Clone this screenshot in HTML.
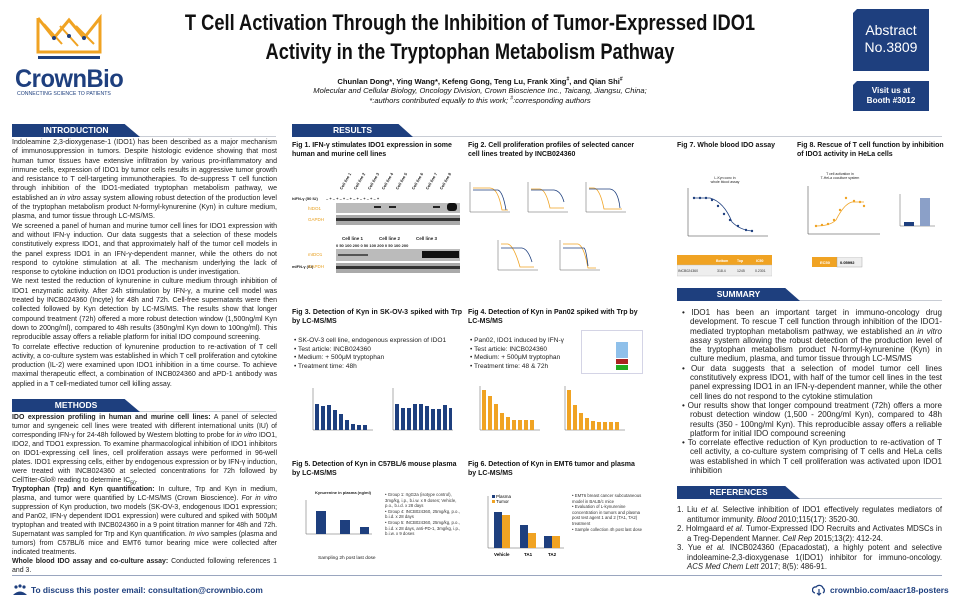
<!DOCTYPE html>
<html><head><meta charset="utf-8"><style>
*{margin:0;padding:0;box-sizing:border-box}
body{width:954px;height:605px;background:#fff;position:relative;overflow:hidden;font-family:"Liberation Sans",sans-serif;color:#222}
.a{position:absolute}
.bar{position:absolute;height:13px;background:#1e3f7e;color:#fff;font-weight:bold;font-size:8.5px;line-height:13px;text-align:center;clip-path:polygon(0 0,88% 0,100% 100%,0 100%)}
.hl{position:absolute;height:1px;background:#c8ccd4}
.txt{position:absolute;font-size:7.05px;line-height:9.3px;text-align:justify;color:#222}
.txt p{margin:0}
sub,sup{line-height:0}
.ft{position:absolute;font-size:7px;font-weight:bold;line-height:9px;color:#111}
.bl{position:absolute;font-size:6.6px;line-height:8.6px;color:#222}
.sm{position:absolute;font-size:8.1px;line-height:9.3px;text-align:justify;color:#222}
.sm p{padding-left:8px;text-indent:-8px}
.box{position:absolute;background:#1e3f7e;color:#fff;text-align:center}
</style></head><body>

<!-- logo -->
<svg class="a" style="left:34px;top:14px" width="70" height="48" viewBox="0 0 70 48">
<polyline points="4,4 4,38 66,38 66,4 50,24 35,6 20,24 4,4" fill="none" stroke="#f0a323" stroke-width="3"/>
<line x1="10" y1="10" x2="28" y2="30" stroke="#f0a323" stroke-width="2"/>
<line x1="26" y1="12" x2="44" y2="32" stroke="#f0a323" stroke-width="2"/>
<line x1="42" y1="12" x2="60" y2="30" stroke="#f0a323" stroke-width="2"/>
<circle cx="20" cy="24" r="2" fill="#1e3f7e"/><circle cx="35" cy="22" r="2" fill="#1e3f7e"/><circle cx="50" cy="24" r="2" fill="#1e3f7e"/>
<rect x="4" y="42" width="62" height="3" fill="#1e3f7e"/>
</svg>
<div class="a" style="left:15px;top:65px;font-size:25px;font-weight:bold;color:#1e3f7e;letter-spacing:-0.5px;transform:scaleX(0.95);transform-origin:left">CrownBio</div>
<div class="a" style="left:17px;top:91px;font-size:5.2px;color:#1e3f7e">CONNECTING SCIENCE TO PATIENTS</div>

<!-- title -->
<div class="a" style="left:70px;top:8px;width:800px;text-align:center;font-size:22px;font-weight:bold;line-height:29px;color:#111;white-space:nowrap;transform:scaleX(0.83);transform-origin:center">T Cell Activation Through the Inhibition of Tumor-Expressed IDO1<br>Activity in the Tryptophan Metabolism Pathway</div>
<div class="a" style="left:250px;top:77px;width:460px;text-align:center;font-size:7.6px;line-height:9.3px;color:#111;white-space:nowrap"><b>Chunlan Dong*, Ying Wang*, Kefeng Gong, Teng Lu, Frank Xing<sup style="font-size:5px">#</sup>, and Qian Shi<sup style="font-size:5px">#</sup></b><br><i>Molecular and Cellular Biology, Oncology Division, Crown Bioscience Inc., Taicang, Jiangsu, China;<br>*:authors contributed equally to this work; <sup style="font-size:5px">#</sup>:corresponding authors</i></div>

<div class="box" style="left:853px;top:9px;width:76px;height:62px;font-size:14px;line-height:17px;padding-top:13px;clip-path:polygon(4px 0,100% 0,100% 100%,0 100%,0 4px)">Abstract<br>No.3809</div>
<div class="box" style="left:853px;top:81px;width:76px;height:30px;font-size:8.2px;font-weight:bold;line-height:10px;padding-top:5px;clip-path:polygon(4px 0,100% 0,100% 100%,0 100%,0 4px)">Visit us at<br>Booth #3012</div>

<!-- section bars -->
<div class="hl" style="left:12px;top:136px;width:264px"></div>
<div class="bar" style="left:12px;top:124px;width:128px">INTRODUCTION</div>
<div class="hl" style="left:292px;top:136px;width:650px"></div>
<div class="bar" style="left:292px;top:124px;width:121px">RESULTS</div>

<div class="txt" style="left:12px;top:138px;width:265px">
<p>Indoleamine 2,3-dioxygenase-1 (IDO1) has been described as a major mechanism of immunosuppression in tumors. Despite histologic evidence showing that most human tumor tissues have extensive infiltration by various pro-inflammatory and immune cells, expression of IDO1 by tumor cells results in aggressive tumor growth and resistance to T cell-targeting immunotherapies. To de-suppress T cell function through inhibition of the IDO1-mediated tryptophan metabolism pathway, we established an <i>in vitro</i> assay system allowing robust detection of the production level of the tryptophan metabolism product N-formyl-kynurenine (Kyn) in culture medium, plasma, and tumor tissue through LC-MS/MS.</p>
<p>We screened a panel of human and murine tumor cell lines for IDO1 expression with and without IFN-γ induction. Our data suggests that a selection of these models constitutively express IDO1, and that approximately half of the tumor cell models in the panel express IDO1 in an IFN-γ-dependent manner, while the others do not respond to cytokine stimulation at all. The mechanism underlying the lack of response to cytokine induction on IDO1 production is under investigation.</p>
<p>We next tested the reduction of kynurenine in culture medium through inhibition of IDO1 enzymatic activity. After 24h stimulation by IFN-γ, a murine cell model was treated by INCB024360 (Incyte) for 48h and 72h. Cell-free supernatants were then collected followed by Kyn detection by LC-MS/MS. The results show that longer compound treatment (72h) offered a more robust detection window (1,500ng/ml Kyn down to 200ng/ml), compared to 48h results (350ng/ml Kyn down to 100ng/ml). This reproducible assay offers a reliable platform for initial IDO compound screening.</p>
<p>To correlate effective reduction of kynurenine production to re-activation of T cell activity, a co-culture system was established in which T cell proliferation and cytokine production (IL-2) were examined upon IDO1 inhibition in a time course. To achieve maximal therapeutic effect, a combination of INCB024360 and aPD-1 antibody was applied in a T cell-mediated tumor cell killing assay.</p>
</div>

<div class="hl" style="left:12px;top:411px;width:264px"></div>
<div class="bar" style="left:12px;top:399px;width:128px">METHODS</div>
<div class="txt" style="left:12px;top:413px;width:265px;font-size:6.95px;line-height:9.0px">
<p><b>IDO expression profiling in human and murine cell lines:</b> A panel of selected tumor and syngeneic cell lines were treated with different international units (IU) of corresponding IFN-γ for 24-48h followed by Western blotting to probe for <i>in vitro</i> IDO1, IDO2, and TDO1 expression. To examine pharmacological inhibition of IDO1 inhibitors on IDO1-expressing cell lines, cell proliferation assays were performed in 96-well plates. IDO1 expressing cells, either by endogenous expression or by IFN-γ induction, were treated with INCB024360 at selected concentrations for 72h followed by CellTiter-Glo® reading to determine IC<sub style="font-size:5px">50</sub>.</p>
<p><b>Tryptophan (Trp) and Kyn quantification:</b> In culture, Trp and Kyn in medium, plasma, and tumor were quantified by LC-MS/MS (Crown Bioscience). <i>For in vitro</i> suppression of Kyn production, two models (SK-OV-3, endogenous IDO1 expression; and Pan02, IFN-γ dependent IDO1 expression) were cultured and spiked with 500μM tryptophan and treated with INCB024360 in a 9 point titration manner for 48h and 72h. Supernatant was sampled for Trp and Kyn quantification. <i>In vivo</i> samples (plasma and tumors) from C57BL/6 mice and EMT6 tumor bearing mice were collected after indicated treatments.</p>
<p><b>Whole blood IDO assay and co-culture assay:</b> Conducted following references 1 and 3.</p>
</div>

<!-- footer -->
<div class="hl" style="left:12px;top:575px;width:930px;background:#9aa6bf"></div>
<svg class="a" style="left:13px;top:584px" width="14" height="11"><circle cx="3" cy="3" r="1.6" fill="#1e3f7e"/><circle cx="7" cy="2" r="1.6" fill="#1e3f7e"/><circle cx="11" cy="3" r="1.6" fill="#1e3f7e"/><path d="M0 11 Q7 4 14 11Z" fill="#1e3f7e"/></svg>
<div class="a" style="left:31px;top:585px;font-size:8.4px;font-weight:bold;color:#1e3f7e">To discuss this poster email: consultation@crownbio.com</div>
<svg class="a" style="left:812px;top:584px" width="14" height="12"><path d="M3 9 A3 3 0 0 1 4 3 A4 4 0 0 1 11 4 A3 3 0 0 1 11 9" fill="none" stroke="#1e3f7e" stroke-width="1.3"/><path d="M7 5 V11 M5 9 L7 11 L9 9" stroke="#1e3f7e" fill="none" stroke-width="1.2"/></svg>
<div class="a" style="left:830px;top:585px;font-size:8.4px;font-weight:bold;color:#1e3f7e">crownbio.com/aacr18-posters</div>

<!-- Fig 1 -->
<div class="ft" style="left:292px;top:141px;width:170px">Fig 1. IFN-γ stimulates IDO1 expression in some human and murine cell lines</div>
<svg class="a" style="left:292px;top:160px" width="170" height="115" font-family="Liberation Sans" font-size="4">
<g font-weight="bold" fill="#222">
<text transform="translate(50,30) rotate(-60)">Cell line 1</text><text transform="translate(64,30) rotate(-60)">Cell line 2</text><text transform="translate(78,30) rotate(-60)">Cell line 3</text><text transform="translate(92,30) rotate(-60)">Cell line 4</text><text transform="translate(106,30) rotate(-60)">Cell line 5</text><text transform="translate(122,30) rotate(-60)">Cell line 6</text><text transform="translate(136,30) rotate(-60)">Cell line 7</text><text transform="translate(150,30) rotate(-60)">Cell line 8</text>
<text x="0" y="40">hIFN-γ (50 IU)</text><text x="34" y="40">– +  – +  – +  – +  – +  – +  – +  – +</text>
<text x="0" y="108">mIFN-γ (IU)</text>
<text x="50" y="80" font-size="4.5">Cell line 1</text><text x="87" y="80" font-size="4.5">Cell line 2</text><text x="124" y="80" font-size="4.5">Cell line 3</text>
<text x="44" y="87">0  50 100 200  0  50 100 200  0  50 100 200</text>
</g>
<text x="16" y="50" fill="#e8a020" font-size="4.5">hIDO1</text><text x="16" y="61" fill="#e8a020" font-size="4.5">GAPDH</text>
<text x="16" y="96" fill="#e8a020" font-size="4.5">mIDO1</text><text x="16" y="108" fill="#e8a020" font-size="4.5">GAPDH</text>
<rect x="44" y="43" width="124" height="10" fill="#bbb"/><rect x="44" y="55" width="124" height="10" fill="#aaa"/>
<rect x="44" y="58" width="124" height="3" fill="#333"/>
<rect x="82" y="46" width="7" height="2" fill="#222"/><rect x="97" y="46" width="7" height="2" fill="#222"/><rect x="141" y="46" width="7" height="2" fill="#222"/><rect x="155" y="43" width="10" height="8" rx="3" fill="#111"/>
<rect x="44" y="89" width="124" height="12" fill="#bbb"/><rect x="130" y="91" width="37" height="7" fill="#111"/><rect x="46" y="94" width="30" height="2" fill="#555"/>
<rect x="44" y="103" width="124" height="10" fill="#aaa"/><rect x="44" y="106" width="124" height="3" fill="#333"/>
</svg>

<!-- Fig 2 -->
<div class="ft" style="left:468px;top:141px;width:175px">Fig 2. Cell proliferation profiles of selected cancer cell lines treated by INCB024360</div>
<svg class="a" style="left:462px;top:178px" width="190" height="105">
<g fill="none" stroke-width="0.8">
<g transform="translate(8,4)"><path d="M0 0V30H40" stroke="#333" stroke-width="0.4"/><path d="M3 6 H20 Q28 6 32 28 H38" stroke="#f0a323"/><path d="M3 8 H28 Q33 10 36 28" stroke="#1e3f7e"/></g>
<g transform="translate(66,4)"><path d="M0 0V30H40" stroke="#333" stroke-width="0.4"/><path d="M3 7 H12 Q18 8 22 26 H36" stroke="#f0a323"/><path d="M3 8 H26 Q33 9 36 20" stroke="#1e3f7e"/></g>
<g transform="translate(124,4)"><path d="M0 0V30H40" stroke="#333" stroke-width="0.4"/><path d="M3 6 H8 Q14 7 18 27 H36" stroke="#f0a323"/><path d="M3 7 H24 Q32 8 34 26" stroke="#1e3f7e"/></g>
<g transform="translate(36,62)"><path d="M0 0V30H40" stroke="#333" stroke-width="0.4"/><path d="M3 4 H10 Q16 6 22 27 H36" stroke="#f0a323"/><path d="M3 8 H24 Q30 9 34 22" stroke="#1e3f7e"/></g>
<g transform="translate(98,62)"><path d="M0 0V30H40" stroke="#333" stroke-width="0.4"/><path d="M3 4 H18 Q24 6 28 28 H36" stroke="#f0a323"/><path d="M3 8 H24 Q26 9 28 26" stroke="#1e3f7e"/></g>
</g></svg>

<!-- Fig 7 -->
<div class="ft" style="left:677px;top:141px;width:110px">Fig 7. Whole blood IDO assay</div>
<div class="a" style="left:705px;top:176px;font-size:3.5px;text-align:center;width:40px">L-Kyn conc in<br>whole blood assay</div>
<svg class="a" style="left:680px;top:186px" width="95" height="60"><path d="M8 2V50H88" stroke="#333" fill="none" stroke-width="0.5"/><path d="M14 12 H30 Q44 16 52 36 Q60 44 72 45" fill="none" stroke="#1e3f7e" stroke-width="0.8"/><g fill="#1e3f7e"><circle cx="14" cy="12" r="1.2"/><circle cx="20" cy="12" r="1.2"/><circle cx="26" cy="12" r="1.2"/><circle cx="32" cy="14" r="1.2"/><circle cx="38" cy="20" r="1.2"/><circle cx="44" cy="28" r="1.2"/><circle cx="50" cy="34" r="1.2"/><circle cx="58" cy="40" r="1.2"/><circle cx="66" cy="44" r="1.2"/><circle cx="72" cy="45" r="1.2"/></g></svg>
<svg class="a" style="left:677px;top:255px" width="95" height="22" font-family="Liberation Sans" font-size="3.5"><rect width="95" height="10" fill="#f0a323"/><rect y="10" width="95" height="11" fill="#eee" stroke="#bbb" stroke-width="0.4"/><g fill="#fff" font-weight="bold"><text x="39" y="7">Bottom</text><text x="60" y="7">Top</text><text x="79" y="7">IC50</text></g><g fill="#333"><text x="1" y="17">INCB024360</text><text x="40" y="17">318.4</text><text x="60" y="17">1245</text><text x="78" y="17">0.2301</text></g></svg>

<!-- Fig 8 -->
<div class="ft" style="left:797px;top:141px;width:150px">Fig 8. Rescue of T cell function by inhibition of IDO1 activity in HeLa cells</div>
<div class="a" style="left:815px;top:172px;font-size:3.5px;text-align:center;width:50px">T cell activation in<br>T-HeLa coculture system</div>
<svg class="a" style="left:800px;top:184px" width="148" height="62"><path d="M8 2V50H80" stroke="#333" fill="none" stroke-width="0.5"/><path d="M16 42 Q30 42 36 36 Q44 20 52 18 H64" fill="none" stroke="#f0a323" stroke-width="0.8"/><g fill="#f0a323"><circle cx="16" cy="42" r="1.2"/><circle cx="22" cy="41" r="1.2"/><circle cx="28" cy="40" r="1.2"/><circle cx="34" cy="36" r="1.2"/><circle cx="40" cy="26" r="1.2"/><circle cx="46" cy="14" r="1.2"/><circle cx="54" cy="17" r="1.2"/><circle cx="60" cy="18" r="1.2"/><circle cx="64" cy="22" r="1.2"/></g>
<path d="M100 10V42H135" stroke="#333" fill="none" stroke-width="0.4"/><rect x="104" y="38" width="10" height="4" fill="#1e3f7e"/><rect x="120" y="14" width="10" height="28" fill="#8ba0c8"/></svg>
<svg class="a" style="left:812px;top:257px" width="60" height="11" font-family="Liberation Sans" font-size="4"><rect width="25" height="10" fill="#f0a323"/><rect x="25" width="25" height="10" fill="#eee" stroke="#999" stroke-width="0.4"/><text x="8" y="7" fill="#fff" font-weight="bold">EC50</text><text x="28" y="7" font-weight="bold">0.05992</text></svg>

<!-- Summary -->
<div class="hl" style="left:677px;top:300px;width:265px"></div>
<div class="bar" style="left:677px;top:288px;width:123px">SUMMARY</div>
<div class="sm" style="left:682px;top:308px;width:260px">
<p>• IDO1 has been an important target in immuno-oncology drug development. To rescue T cell function through inhibition of the IDO1-mediated tryptophan metabolism pathway, we established an <i>in vitro</i> assay system allowing the robust detection of the production level of the tryptophan metabolism product N-formyl-kynurenine (Kyn) in culture medium, plasma, and tumor tissue through LC-MS/MS</p>
<p>• Our data suggests that a selection of model tumor cell lines constitutively express IDO1, with half of the tumor cell lines in the test panel expressing IDO1 in an IFN-γ-dependent manner, while the other cell lines do not respond to the cytokine stimulation</p>
<p>• Our results show that longer compound treatment (72h) offers a more robust detection window (1,500 - 200ng/ml Kyn), compared to 48h results (350 - 100ng/ml Kyn). This reproducible assay offers a reliable platform for initial IDO compound screening</p>
<p>• To correlate effective reduction of Kyn production to re-activation of T cell activity, a co-culture system comprising of T cells and HeLa cells was established in which T cell proliferation was activated upon IDO1 inhibition</p>
</div>

<div class="hl" style="left:677px;top:498px;width:265px"></div>
<div class="bar" style="left:677px;top:486px;width:123px">REFERENCES</div>
<div class="sm" style="left:677px;top:505px;width:265px;font-size:7.8px;line-height:9.5px">
<p style="padding-left:10px;text-indent:-10px">1. Liu <i>et al.</i> Selective inhibition of IDO1 effectively regulates mediators of antitumor immunity. <i>Blood</i> 2010;115(17): 3520-30.</p>
<p style="padding-left:10px;text-indent:-10px">2. Holmgaard <i>et al.</i> Tumor-Expressed IDO Recruits and Activates MDSCs in a Treg-Dependent Manner. <i>Cell Rep</i> 2015;13(2): 412-24.</p>
<p style="padding-left:10px;text-indent:-10px">3. Yue <i>et al.</i> INCB024360 (Epacadostat), a highly potent and selective indoleamine-2,3-dioxygenase 1(IDO1) inhibitor for immuno-oncology. <i>ACS Med Chem Lett</i> 2017; 8(5): 486-91.</p>
</div>

<!-- Fig 3 -->
<div class="ft" style="left:292px;top:308px;width:170px;text-align:justify">Fig 3. Detection of Kyn in SK-OV-3 spiked with Trp by LC-MS/MS</div>
<div class="bl" style="left:294px;top:337px">• SK-OV-3 cell line, endogenous expression of IDO1<br>• Test article: INCB024360<br>• Medium: + 500μM tryptophan<br>• Treatment time: 48h</div>
<svg class="a" style="left:305px;top:382px" width="150" height="62">
<path d="M8 6V48H68" stroke="#333" fill="none" stroke-width="0.4"/>
<g fill="#1e3f7e"><rect x="10" y="22" width="4" height="26"/><rect x="16" y="24" width="4" height="24"/><rect x="22" y="23" width="4" height="25"/><rect x="28" y="28" width="4" height="20"/><rect x="34" y="32" width="4" height="16"/><rect x="40" y="38" width="4" height="10"/><rect x="46" y="42" width="4" height="6"/><rect x="52" y="43" width="4" height="5"/><rect x="58" y="43" width="4" height="5"/></g>
<path d="M88 6V48H148" stroke="#333" fill="none" stroke-width="0.4"/>
<g fill="#1e3f7e"><rect x="90" y="22" width="4" height="26"/><rect x="96" y="26" width="4" height="22"/><rect x="102" y="26" width="4" height="22"/><rect x="108" y="22" width="4" height="26"/><rect x="114" y="22" width="4" height="26"/><rect x="120" y="24" width="4" height="24"/><rect x="126" y="27" width="4" height="21"/><rect x="132" y="27" width="4" height="21"/><rect x="138" y="23" width="4" height="25"/><rect x="144" y="26" width="3" height="22"/></g>
</svg>

<!-- Fig 4 -->
<div class="ft" style="left:468px;top:308px;width:175px">Fig 4. Detection of Kyn in Pan02 spiked with Trp by LC-MS/MS</div>
<div class="bl" style="left:470px;top:337px">• Pan02, IDO1 induced by IFN-γ<br>• Test article: INCB024360<br>• Medium: + 500μM tryptophan<br>• Treatment time: 48 &amp; 72h</div>
<svg class="a" style="left:581px;top:330px" width="62" height="44"><rect x="0.5" y="0.5" width="61" height="43" fill="#fff" stroke="#aac" stroke-width="0.5"/><rect x="35" y="12" width="12" height="16" fill="#8fc0ea"/><rect x="35" y="29" width="12" height="5" fill="#a22"/><rect x="35" y="35" width="12" height="5" fill="#2a2"/></svg>
<svg class="a" style="left:470px;top:382px" width="180" height="68">
<path d="M10 4V48H70" stroke="#333" fill="none" stroke-width="0.4"/>
<g fill="#f0a323"><rect x="12" y="8" width="4" height="40"/><rect x="18" y="14" width="4" height="34"/><rect x="24" y="22" width="4" height="26"/><rect x="30" y="31" width="4" height="17"/><rect x="36" y="35" width="4" height="13"/><rect x="42" y="38" width="4" height="10"/><rect x="48" y="38" width="4" height="10"/><rect x="54" y="38" width="4" height="10"/><rect x="60" y="38" width="4" height="10"/></g>
<path d="M95 4V48H155" stroke="#333" fill="none" stroke-width="0.4"/>
<g fill="#f0a323"><rect x="97" y="8" width="4" height="40"/><rect x="103" y="23" width="4" height="25"/><rect x="109" y="31" width="4" height="17"/><rect x="115" y="36" width="4" height="12"/><rect x="121" y="39" width="4" height="9"/><rect x="127" y="40" width="4" height="8"/><rect x="133" y="40" width="4" height="8"/><rect x="139" y="40" width="4" height="8"/><rect x="145" y="40" width="4" height="8"/></g>
</svg>

<!-- Fig 5 -->
<div class="ft" style="left:292px;top:460px;width:170px">Fig 5. Detection of Kyn in C57BL/6 mouse plasma by LC-MS/MS</div>
<div class="a" style="left:315px;top:490px;font-size:4px;font-weight:bold">Kynurenine in plasma (ng/ml)</div>
<svg class="a" style="left:296px;top:498px" width="80" height="45"><path d="M10 2V36H76" stroke="#333" fill="none" stroke-width="0.4"/><rect x="20" y="13" width="10" height="23" fill="#1e3f7e"/><rect x="44" y="22" width="10" height="14" fill="#1e3f7e"/><rect x="64" y="29" width="9" height="7" fill="#1e3f7e"/></svg>
<div class="a" style="left:318px;top:556px;font-size:4.8px">Sampling 2h post last dose</div>
<div class="a" style="left:385px;top:492px;width:80px;font-size:4.3px;line-height:5.6px;color:#333">• Group 1: rIgG2a (isotype control), 3mg/kg, i.p., b.i.w. x 9 doses; Vehicle, p.o., b.i.d. x 28 days<br>• Group 4: INCB024360, 25mg/kg, p.o., b.i.d. x 28 days<br>• Group 5: INCB024360, 25mg/kg, p.o., b.i.d. x 28 days, anti-PD-1, 3mg/kg, i.p., b.i.w. x 9 doses</div>

<!-- Fig 6 -->
<div class="ft" style="left:468px;top:460px;width:175px">Fig 6. Detection of Kyn in EMT6 tumor and plasma by LC-MS/MS</div>
<svg class="a" style="left:474px;top:492px" width="95" height="68" font-family="Liberation Sans" font-size="4.5"><path d="M14 4V56H90" stroke="#333" fill="none" stroke-width="0.4"/><rect x="18" y="3" width="3" height="3" fill="#1e3f7e"/><text x="22" y="6">Plasma</text><rect x="18" y="8" width="3" height="3" fill="#f0a323"/><text x="22" y="11">Tumor</text>
<rect x="20" y="20" width="8" height="36" fill="#1e3f7e"/><rect x="28" y="23" width="8" height="33" fill="#f0a323"/><rect x="46" y="33" width="8" height="23" fill="#1e3f7e"/><rect x="54" y="41" width="8" height="15" fill="#f0a323"/><rect x="70" y="44" width="8" height="12" fill="#1e3f7e"/><rect x="78" y="44" width="8" height="12" fill="#f0a323"/>
<g font-weight="bold"><text x="20" y="64">Vehicle</text><text x="50" y="64">TA1</text><text x="74" y="64">TA2</text></g></svg>
<div class="a" style="left:572px;top:493px;width:75px;font-size:4.3px;line-height:5.6px;color:#333">• EMT6 breast cancer subcutaneous model in BALB/c mice<br>• Evaluation of L-kynurenine concentration in tumors and plasma post test agent 1 and 2 (TA1, TA2) treatment<br>• Sample collection 4h post last dose</div>
</body></html>
